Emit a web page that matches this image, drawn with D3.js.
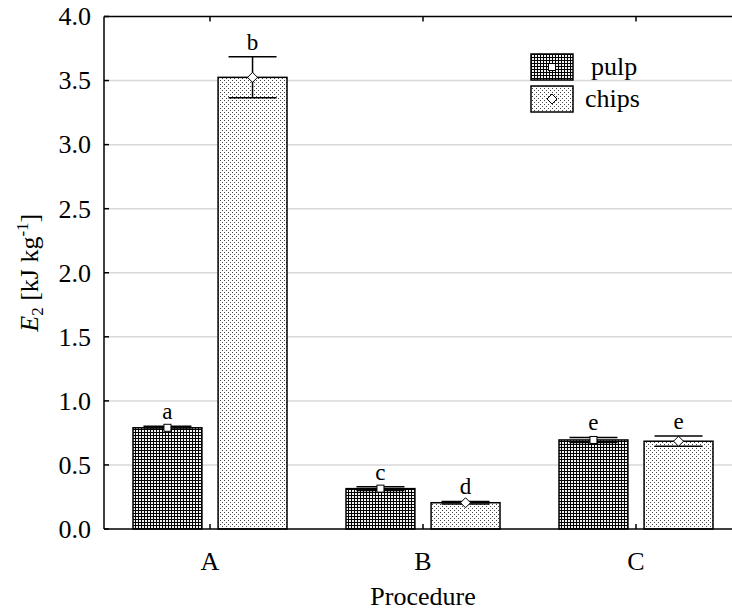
<!DOCTYPE html>
<html>
<head>
<meta charset="utf-8">
<script src="https://cdn.jsdelivr.net/npm/d3@7"></script>
<style>
  body { margin: 0; background: #fff; }
  text { font-family: "Liberation Serif", "Times New Roman", serif; fill: #000; }
</style>
</head>
<body>
<svg id="chart" width="732" height="610"></svg>
<script>
// chart data
var procedures = ["A", "B", "C"];
var series = ["pulp", "chips"];
var means = { pulp: [0.79, 0.315, 0.695], chips: [3.525, 0.205, 0.685] };
var errs = { pulp: [0.012, 0.015, 0.02], chips: [0.16, 0.01, 0.04] };
var letters = { pulp: ["a", "c", "e"], chips: ["b", "d", "e"] };
var yTicks = [0, 0.5, 1, 1.5, 2, 2.5, 3, 3.5, 4];

var svg = d3.select("#chart");

var x = d3.scaleBand().domain(procedures).range([103.5, 742.5]);
var xs = d3.scaleBand().domain(series).range([29.5, 183.5]).paddingInner(0.19);
var y = d3.scaleLinear().domain([0, 4]).range([529, 16.5]);

// patterns
var defs = svg.append("defs");
var p1 = defs.append("pattern").attr("id", "pat_pulp")
  .attr("width", 3).attr("height", 3).attr("patternUnits", "userSpaceOnUse");
p1.append("rect").attr("width", 3).attr("height", 3).attr("fill", "#000");
p1.append("rect").attr("x", 1).attr("y", 1).attr("width", 2).attr("height", 2).attr("fill", "#f2f2f2");

var p2 = defs.append("pattern").attr("id", "pat_chips")
  .attr("width", 4).attr("height", 4).attr("patternUnits", "userSpaceOnUse");
p2.append("rect").attr("width", 4).attr("height", 4).attr("fill", "#fff");
p2.append("rect").attr("x", 0).attr("y", 0).attr("width", 1).attr("height", 1).attr("fill", "#444");
p2.append("rect").attr("x", 2).attr("y", 2).attr("width", 1).attr("height", 1).attr("fill", "#444");

// gridlines
svg.append("g").selectAll("line")
  .data(yTicks.filter(function(d) { return d > 0 && d < 4; }))
  .enter().append("line")
  .attr("x1", 104).attr("x2", 732)
  .attr("y1", function(d) { return y(d); })
  .attr("y2", function(d) { return y(d); })
  .attr("stroke", "#d9d9d9").attr("stroke-width", 1.5);

// bars
var rows = [];
procedures.forEach(function(p, i) {
  series.forEach(function(s) {
    rows.push({ proc: p, s: s, v: means[s][i], e: errs[s][i], lab: letters[s][i] });
  });
});

function cx(d) { return x(d.proc) + xs(d.s) + xs.bandwidth() / 2; }

svg.append("g").selectAll("rect")
  .data(rows).enter().append("rect")
  .attr("x", function(d) { return x(d.proc) + xs(d.s); })
  .attr("y", function(d) { return y(d.v); })
  .attr("width", xs.bandwidth())
  .attr("height", function(d) { return y(0) - y(d.v); })
  .attr("fill", function(d) { return "url(#pat_" + d.s + ")"; })
  .attr("stroke", "#000").attr("stroke-width", 1.5);

// error bars
var eb = svg.append("g").attr("stroke", "#000").attr("stroke-width", 1.5);
rows.forEach(function(d) {
  var c = cx(d);
  eb.append("line").attr("x1", c).attr("x2", c).attr("y1", y(d.v + d.e)).attr("y2", y(d.v - d.e));
  eb.append("line").attr("x1", c - 24).attr("x2", c + 24).attr("y1", y(d.v + d.e)).attr("y2", y(d.v + d.e));
  eb.append("line").attr("x1", c - 24).attr("x2", c + 24).attr("y1", y(d.v - d.e)).attr("y2", y(d.v - d.e));
});

// markers
function marker(g, s, cxv, cyv) {
  if (s == "pulp") {
    g.append("rect").attr("x", cxv - 3.5).attr("y", cyv - 3.5).attr("width", 7).attr("height", 7)
      .attr("fill", "#fff").attr("stroke", "#000").attr("stroke-width", 1);
  } else {
    g.append("path").attr("d", "M" + cxv + "," + (cyv - 5) + "L" + (cxv + 5) + "," + cyv +
        "L" + cxv + "," + (cyv + 5) + "L" + (cxv - 5) + "," + cyv + "Z")
      .attr("fill", "#fff").attr("stroke", "#000").attr("stroke-width", 1);
  }
}
var mk = svg.append("g");
rows.forEach(function(d) { marker(mk, d.s, cx(d), y(d.v)); });

// significance letters
svg.append("g").selectAll("text")
  .data(rows).enter().append("text")
  .attr("x", cx)
  .attr("y", function(d) { return y(d.v + d.e) - 7; })
  .attr("text-anchor", "middle")
  .attr("font-size", 23)
  .text(function(d) { return d.lab; });

// axes frame
var ax = svg.append("g").attr("stroke", "#000").attr("stroke-width", 1.5);
ax.append("line").attr("x1", 104).attr("x2", 732).attr("y1", y(0)).attr("y2", y(0));
ax.append("line").attr("x1", 104).attr("x2", 732).attr("y1", y(4)).attr("y2", y(4));
ax.append("line").attr("x1", 104).attr("x2", 104).attr("y1", y(4)).attr("y2", y(0));

yTicks.forEach(function(t) {
  ax.append("line").attr("x1", 104).attr("x2", 109).attr("y1", y(t)).attr("y2", y(t));
});
procedures.forEach(function(p) {
  var c = x(p) + x.bandwidth() / 2;
  ax.append("line").attr("x1", c).attr("x2", c).attr("y1", y(0)).attr("y2", y(0) - 5);
  ax.append("line").attr("x1", c).attr("x2", c).attr("y1", y(4)).attr("y2", y(4) + 5);
});

// tick labels
svg.append("g").selectAll("text")
  .data(yTicks).enter().append("text")
  .attr("x", 91).attr("y", function(d) { return y(d); })
  .attr("dy", "0.34em")
  .attr("text-anchor", "end")
  .attr("font-size", 26)
  .text(function(d) { return d.toFixed(1); });

svg.append("g").selectAll("text")
  .data(procedures).enter().append("text")
  .attr("x", function(d) { return x(d) + x.bandwidth() / 2; })
  .attr("y", 570)
  .attr("text-anchor", "middle")
  .attr("font-size", 26)
  .text(function(d) { return d; });

svg.append("text")
  .attr("x", x("B") + x.bandwidth() / 2).attr("y", 605)
  .attr("text-anchor", "middle").attr("font-size", 26)
  .text("Procedure");

// y title
var yt = svg.append("text")
  .attr("transform", "translate(38," + ((y(0) + y(4)) / 2) + ") rotate(-90)")
  .attr("text-anchor", "middle").attr("font-size", 26);
yt.append("tspan").attr("font-style", "italic").text("E");
yt.append("tspan").attr("font-size", 17).attr("dy", 5).text("2");
yt.append("tspan").attr("dy", -5).text(" [kJ kg");
yt.append("tspan").attr("font-size", 17).attr("dy", -10).text("-1");
yt.append("tspan").attr("dy", 10).text("]");

// legend
var lg = svg.append("g");
var legX = [591, 585];
series.forEach(function(s, i) {
  var top = 54 + i * 32;
  lg.append("rect").attr("x", 531).attr("y", top).attr("width", 42).attr("height", 26)
    .attr("fill", "url(#pat_" + s + ")").attr("stroke", "#000").attr("stroke-width", 1.5);
  marker(lg, s, 552, top + 13);
  lg.append("text").attr("x", legX[i]).attr("y", top + 21).attr("font-size", 26).text(s);
});
</script>
</body>
</html>
